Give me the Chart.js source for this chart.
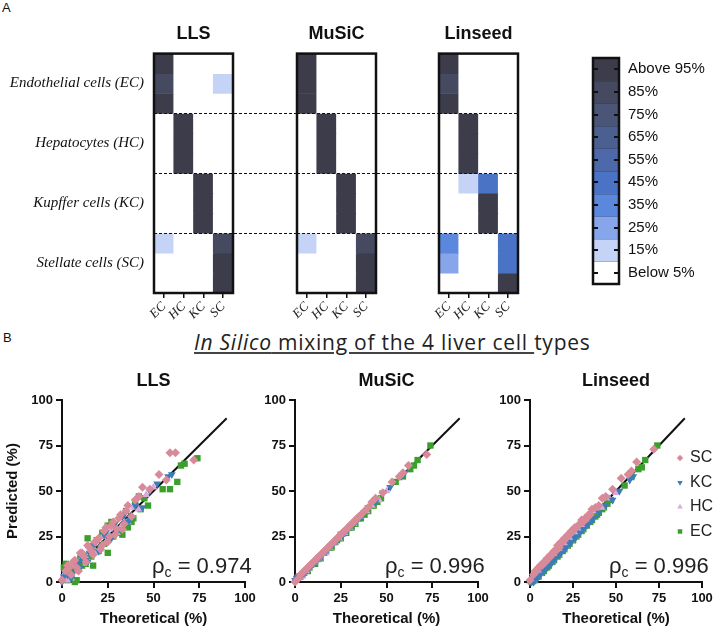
<!DOCTYPE html>
<html>
<head>
<meta charset="utf-8">
<script src="https://cdn.jsdelivr.net/npm/chart.js@4.4.0/dist/chart.umd.min.js"></script>
<style>
  body { margin: 0; background: #fff; }
  #page { position: relative; width: 727px; height: 632px; overflow: hidden; font-family: "Liberation Sans", Arial, sans-serif; color: #111; }
  canvas, .txt { position: absolute; }
  #mixTitle { left: 194px; top: 328px; font-family: "Open Sans", sans-serif; font-size: 21px; letter-spacing: 0.75px; line-height: 28px; white-space: nowrap; color: #222; }
  #mixTitle u { text-decoration-color: #444; }
</style>
</head>
<body>
<div id="page">
  <div class="txt" style="left:2px;top:0px;font-size:13px">A</div>
  <div class="txt" style="left:3px;top:330px;font-size:13px">B</div>
  <div class="txt" id="mixTitle"><u><i>In Silico</i> mixing of the 4 liver cell </u>types</div>

  <canvas id="hmLLS" width="297" height="320" style="left:0px;top:10px"></canvas>
  <canvas id="hmMuSiC" width="182" height="320" style="left:257px;top:10px"></canvas>
  <canvas id="hmLinseed" width="131" height="320" style="left:399px;top:10px"></canvas>
  <canvas id="colorBar" width="174" height="262" style="left:553px;top:40px"></canvas>

  <canvas id="scLLS" width="270" height="272" style="left:0px;top:360px"></canvas>
  <canvas id="scMuSiC" width="248" height="272" style="left:255px;top:360px"></canvas>
  <canvas id="scLinseed" width="237" height="272" style="left:490px;top:360px"></canvas>
</div>

<script>
// ---- panel A data ----
const columnLabels = ["EC", "HC", "KC", "SC"];
const rowGroups = ["Endothelial cells (EC)", "Hepatocytes (HC)", "Kupffer cells (KC)", "Stellate cells (SC)"];
const groupCenters = [1.5, 4.5, 7.5, 10.5];
const groupBreaks = [3, 6, 9];

const levelLabels = ["Above 95%", "85%", "75%", "65%", "55%", "45%", "35%", "25%", "15%", "Below 5%"];
const levelColors = ["#3c3c4a", "#464a60", "#4a5577", "#4c5f91", "#4d69aa", "#4a73c6", "#5b87dc", "#87a5ea", "#c4d3f6", "#ffffff"];

// percentage of each sample (row) assigned to each cell type (column)
const llsValues = [
  [97, 0, 0, 0], [86, 0, 0, 16], [97, 0, 0, 0],
  [0, 98, 0, 0], [0, 98, 0, 0], [0, 98, 0, 0],
  [0, 0, 98, 0], [0, 0, 98, 0], [0, 0, 98, 0],
  [15, 0, 0, 85], [0, 0, 0, 97], [0, 0, 0, 97],
];
const musicValues = [
  [97, 0, 0, 0], [97, 0, 0, 0], [97, 0, 0, 0],
  [0, 98, 0, 0], [0, 98, 0, 0], [0, 98, 0, 0],
  [0, 0, 98, 0], [0, 0, 98, 0], [0, 0, 98, 0],
  [15, 0, 0, 85], [0, 0, 0, 97], [0, 0, 0, 97],
];
const linseedValues = [
  [97, 0, 0, 0], [85, 0, 0, 0], [97, 0, 0, 0],
  [0, 97, 0, 0], [0, 97, 0, 0], [0, 97, 0, 0],
  [0, 15, 45, 0], [0, 0, 97, 0], [0, 0, 97, 0],
  [35, 0, 0, 45], [25, 0, 0, 45], [0, 0, 0, 97],
];

// ---- panel B data (theoretical vs predicted %) ----
const theoSC = [0, 2, 3, 5, 6, 8, 10, 12, 14, 16, 18, 20, 22, 24, 26, 28, 30, 32, 34, 36, 38, 42, 44, 48, 53, 57, 59, 62, 72,
  4, 7, 9, 11, 13, 15, 17, 19, 21, 23, 25, 27, 29, 31, 33, 35, 40];
const llsSC = [1, 6, 9, 4, 11, 8, 16, 14, 20, 17, 22, 24, 20, 30, 25, 33, 29, 37, 32, 42, 36, 47, 52, 51, 59, 56, 71, 71, 67,
  8, 12, 6, 16, 11, 19, 15, 23, 18, 28, 22, 31, 26, 35, 29, 39, 45];
const musicSC = [0, 2, 4, 6, 7, 9, 11, 13, 15, 17, 19, 21, 23, 25, 27, 29, 31, 33, 35, 37, 39, 44, 46, 49, 55, 58, 60, 64, 70,
  5, 8, 10, 12, 14, 16, 18, 20, 22, 24, 26, 28, 30, 32, 34, 36, 41];
const linseedSC = [1, 4, 6, 8, 9, 11, 13, 15, 17, 20, 22, 24, 26, 28, 30, 31, 34, 35, 37, 40, 41, 46, 47, 51, 57, 59, 61, 66, 73,
  6, 9, 11, 13, 15, 17, 19, 22, 24, 26, 28, 30, 32, 33, 35, 37, 42];

const theoKC = [0, 1, 3, 4, 6, 9, 11, 13, 15, 18, 21, 23, 26, 29, 31, 34, 37, 40, 44, 48, 52, 58, 60,
  2, 5, 8, 10, 12, 14, 17, 20, 24, 27, 33, 36];
const llsKC = [0, 3, 4, 7, 5, 11, 13, 12, 16, 21, 19, 26, 24, 32, 29, 37, 34, 42, 41, 50, 54, 58, 59,
  5, 2, 10, 8, 15, 11, 20, 17, 27, 24, 36, 33];
const musicKC = [1, 2, 3, 4, 6, 9, 11, 13, 15, 18, 21, 23, 26, 29, 31, 34, 37, 41, 44, 49, 52, 58, 60,
  3, 5, 8, 10, 12, 14, 17, 20, 24, 27, 33, 36];
const linseedKC = [0, 0, 1, 2, 4, 7, 9, 11, 13, 16, 19, 21, 24, 27, 29, 32, 35, 38, 42, 45, 50, 56, 58,
  0, 3, 6, 8, 10, 12, 15, 18, 22, 25, 31, 34];

const theoHC = [0, 2, 4, 5, 7, 9, 12, 14, 17, 19, 22, 24, 27, 30, 33, 36, 39, 42, 46, 50,
  1, 3, 6, 8, 11, 13, 16, 21, 26, 32];
const llsHC = [2, 3, 6, 2, 10, 7, 15, 12, 19, 16, 25, 22, 30, 27, 35, 33, 41, 40, 48, 52,
  4, 1, 9, 6, 14, 10, 20, 18, 29, 30];
const musicHC = [1, 2, 3, 5, 7, 9, 12, 14, 16, 19, 22, 24, 27, 30, 33, 36, 39, 42, 45, 50,
  2, 3, 6, 8, 11, 13, 16, 21, 26, 32];
const linseedHC = [0, 1, 3, 4, 6, 9, 11, 13, 17, 18, 22, 23, 27, 29, 33, 35, 39, 41, 46, 49,
  1, 2, 5, 7, 10, 12, 15, 20, 25, 31];

const theoEC = [1, 2, 4, 7, 8, 11, 14, 17, 20, 22, 25, 25, 28, 31, 33, 36, 38, 40, 43, 45, 47, 55, 59, 63, 65, 67, 74,
  3, 5, 10, 13, 16, 19, 23, 27, 30, 35, 39, 42];
const llsEC = [8, 10, 3, 0, 1, 9, 24, 9, 17, 27, 31, 16, 25, 29, 26, 30, 33, 44, 40, 46, 42, 51, 51, 55, 64, 65, 68,
  1, 7, 13, 10, 14, 23, 21, 33, 27, 39, 35, 47];
const musicEC = [2, 3, 4, 6, 8, 10, 13, 17, 19, 22, 24, 26, 27, 30, 32, 35, 37, 39, 42, 44, 46, 55, 58, 62, 64, 67, 75,
  3, 5, 10, 13, 16, 19, 23, 27, 30, 35, 39, 42];
const linseedEC = [0, 1, 3, 5, 6, 9, 12, 15, 18, 20, 23, 23, 26, 29, 31, 34, 36, 38, 41, 43, 45, 53, 58, 62, 63, 67, 75,
  1, 3, 8, 11, 14, 17, 21, 25, 28, 33, 37, 40];

const identityLine = [0, 90];
const rhoValues = ["0.974", "0.996", "0.996"];

Chart.defaults.font.family = '"Liberation Sans", Arial, sans-serif';
Chart.defaults.color = "#111";
Chart.defaults.animation = false;
Chart.defaults.plugins.legend.display = false;
Chart.defaults.plugins.tooltip.enabled = false;

// which colour bin a percentage falls in
function levelIndex(v) {
  if (v >= 95) return 0;
  if (v < 5) return 9;
  return Math.min(8, Math.max(1, Math.round((95 - v) / 10)));
}

// box round the heatmap + dashed separators between cell-type groups
const heatFrame = {
  id: "heatFrame",
  afterDatasetsDraw(chart, args, opts) {
    const { ctx, chartArea: a, scales: { y } } = chart;
    ctx.save();
    ctx.strokeStyle = "#111";
    ctx.lineWidth = 1;
    ctx.setLineDash([3, 2]);
    groupBreaks.forEach((v) => {
      const py = Math.round(y.getPixelForValue(v)) + 0.5;
      ctx.beginPath();
      ctx.moveTo(a.left, py);
      ctx.lineTo(opts.toEdge ? chart.width : a.right, py);
      ctx.stroke();
    });
    ctx.setLineDash([]);
    ctx.lineWidth = 2.5;
    ctx.strokeRect(a.left, a.top, a.right - a.left, a.bottom - a.top);
    ctx.restore();
  },
};

function heatmapChart(id, title, values, showRows, padding, toEdge) {
  const datasets = values.map((row, r) => ({
    label: "row " + r,
    data: columnLabels.map(() => 1),
    backgroundColor: row.map((v) => levelColors[levelIndex(v)]),
    borderWidth: 0,
  }));

  return new Chart(document.getElementById(id), {
    type: "bar",
    data: { labels: columnLabels, datasets },
    options: {
      responsive: false,
      layout: { padding },
      datasets: { bar: { barPercentage: 1, categoryPercentage: 1 } },
      plugins: {
        title: {
          display: true, text: title, fullSize: false,
          font: { size: 18, weight: "bold" }, color: "#111",
          padding: { top: 13, bottom: 9 },
        },
        heatFrame: { toEdge },
      },
      scales: {
        x: {
          stacked: true,
          afterFit: (s) => { s.height = 37; },
          grid: { display: true, drawOnChartArea: false, offset: false, tickLength: 5, color: "#111", lineWidth: 1.5 },
          border: { display: false },
          ticks: {
            autoSkip: false, minRotation: 45, maxRotation: 45, padding: 1, color: "#222",
            font: { family: '"Liberation Serif", serif', style: "italic", size: 13 },
          },
        },
        y: {
          stacked: true, min: 0, max: 12, reverse: true,
          display: showRows,
          afterFit: (s) => { s.width = showRows ? 154 : 0; },
          afterBuildTicks: (s) => { s.ticks = groupCenters.map((v) => ({ value: v })); },
          grid: { display: false, drawTicks: false },
          border: { display: false },
          ticks: {
            autoSkip: false, padding: 10, color: "#111",
            font: { family: '"Liberation Serif", serif', style: "italic", size: 15 },
            callback: (v, i) => rowGroups[i],
          },
        },
      },
    },
    plugins: [heatFrame],
  });
}

heatmapChart("hmLLS", "LLS", llsValues, true, { left: 0, right: 64, top: 0, bottom: 0 }, true);
heatmapChart("hmMuSiC", "MuSiC", musicValues, false, { left: 40, right: 63, top: 0, bottom: 0 }, true);
heatmapChart("hmLinseed", "Linseed", linseedValues, false, { left: 40, right: 12, top: 0, bottom: 0 }, false);

// colour scale
const barFrame = {
  id: "barFrame",
  afterDatasetsDraw(chart) {
    const { ctx, chartArea: a, scales: { y } } = chart;
    ctx.save();
    ctx.strokeStyle = "rgba(30,30,50,0.25)";
    ctx.lineWidth = 1;
    for (let i = 1; i < levelLabels.length; i++) {
      const py = Math.round(y.getPixelForValue(i)) + 0.5;
      ctx.beginPath(); ctx.moveTo(a.left, py); ctx.lineTo(a.right, py); ctx.stroke();
    }
    ctx.strokeStyle = "#111";
    ctx.lineWidth = 2;
    y.ticks.forEach((t, i) => {
      const py = Math.round(y.getPixelForTick(i));
      ctx.beginPath(); ctx.moveTo(a.left, py); ctx.lineTo(a.left + 5, py); ctx.stroke();
      ctx.beginPath(); ctx.moveTo(a.right - 5, py); ctx.lineTo(a.right, py); ctx.stroke();
    });
    ctx.lineWidth = 2.5;
    ctx.strokeRect(a.left, a.top, a.right - a.left, a.bottom - a.top);
    ctx.restore();
  },
};

new Chart(document.getElementById("colorBar"), {
  type: "bar",
  data: {
    labels: [""],
    datasets: levelLabels.map((l, i) => ({ label: l, data: [1], backgroundColor: levelColors[i], borderWidth: 0 })),
  },
  options: {
    responsive: false,
    layout: { padding: { left: 40, right: 0, top: 12, bottom: 11 } },
    datasets: { bar: { barPercentage: 1, categoryPercentage: 1 } },
    scales: {
      x: { stacked: true, display: false },
      y: {
        stacked: true, min: 0, max: 10, reverse: true, position: "right",
        afterFit: (s) => { s.width = 108; },
        afterBuildTicks: (s) => { s.ticks = levelLabels.map((l, i) => ({ value: i + 0.5 })); },
        grid: { display: false, drawTicks: false },
        border: { display: false },
        ticks: { autoSkip: false, padding: 9, color: "#111", font: { size: 15 }, callback: (v, i) => levelLabels[i] },
      },
    },
  },
  plugins: [barFrame],
});

// ---- scatter panels ----
const cellTypes = [
  { label: "SC", theo: theoSC, color: "#d98a98", style: "rectRot", rotation: 0 },
  { label: "KC", theo: theoKC, color: "#3b7db8", style: "triangle", rotation: 180 },
  { label: "HC", theo: theoHC, color: "#dba8e0", style: "triangle", rotation: 0 },
  { label: "EC", theo: theoEC, color: "#3c9f2d", style: "rect", rotation: 0 },
];

const rhoLabel = {
  id: "rhoLabel",
  afterDraw(chart, args, opts) {
    const { ctx, chartArea: a } = chart;
    let x = a.right - 93;
    const base = a.bottom - 9;
    ctx.save();
    ctx.fillStyle = "#222";
    ctx.textAlign = "left";
    ctx.textBaseline = "alphabetic";
    ctx.font = '22px "Liberation Sans"';
    ctx.fillText("ρ", x, base);
    x += ctx.measureText("ρ").width;
    ctx.font = '14px "Liberation Sans"';
    ctx.fillText("c", x, base + 4);
    x += ctx.measureText("c").width;
    ctx.font = '22px "Liberation Sans"';
    ctx.fillText(" = " + opts.value, x, base);
    ctx.restore();
  },
};

const cellLegend = {
  id: "cellLegend",
  afterDraw(chart, args, opts) {
    if (!opts.show) return;
    const { ctx, chartArea: a } = chart;
    ctx.save();
    chart.data.datasets.forEach((ds, i) => {
      if (ds.showLine) return;
      const y = a.top + 58 + i * 24.5;
      ctx.fillStyle = ds.backgroundColor;
      Chart.helpers.drawPoint(ctx, { pointStyle: ds.pointStyle, rotation: ds.pointRotation, radius: 3.2, borderWidth: 0 }, a.right - 22, y);
      ctx.fillStyle = "#222";
      ctx.font = '16px "Liberation Sans"';
      ctx.textBaseline = "middle";
      ctx.textAlign = "left";
      ctx.fillText(ds.label, a.right - 12, y);
    });
    ctx.restore();
  },
};

function scatterChart(id, title, predicted, rho, yWidth, showYTitle, showLegend) {
  const datasets = cellTypes.map((c, k) => ({
    label: c.label,
    data: c.theo.map((x, i) => ({ x, y: predicted[k][i] })),
    backgroundColor: c.color,
    borderColor: c.color,
    pointStyle: c.style,
    pointRotation: c.rotation,
    pointRadius: 4.5,
    pointBorderWidth: 0,
    clip: 6,
  }));
  datasets.push({
    label: "identity",
    data: identityLine.map((v) => ({ x: v, y: v })),
    showLine: true,
    borderColor: "#111",
    borderWidth: 2,
    pointRadius: 0,
  });

  return new Chart(document.getElementById(id), {
    type: "scatter",
    data: { datasets },
    options: {
      responsive: false,
      layout: { padding: { left: 0, right: 25, top: 0, bottom: 0 } },
      plugins: {
        title: {
          display: true, text: title, fullSize: false,
          font: { size: 18, weight: "bold" }, color: "#111",
          padding: { top: 10, bottom: 8.4 },
        },
        rhoLabel: { value: rho },
        cellLegend: { show: showLegend },
      },
      scales: {
        x: {
          type: "linear", min: 0, max: 100,
          afterFit: (s) => { s.height = 50; },
          grid: { drawOnChartArea: false, tickLength: 6, color: "#111", lineWidth: 2 },
          border: { color: "#111", width: 2 },
          ticks: { stepSize: 25, padding: 3, color: "#111", font: { size: 13, weight: "bold" } },
          title: { display: true, text: "Theoretical (%)", color: "#111", font: { size: 15, weight: "bold" }, padding: { top: 4, bottom: 4 } },
        },
        y: {
          type: "linear", min: 0, max: 100,
          afterFit: (s) => { s.width = yWidth; },
          grid: { drawOnChartArea: false, tickLength: 6, color: "#111", lineWidth: 2 },
          border: { color: "#111", width: 2 },
          ticks: { stepSize: 25, padding: 3, color: "#111", font: { size: 13, weight: "bold" } },
          title: { display: showYTitle, text: "Predicted (%)", color: "#111", font: { size: 15, weight: "bold" }, padding: { top: 4, bottom: 4 } },
        },
      },
    },
    plugins: [rhoLabel, cellLegend],
  });
}

scatterChart("scLLS", "LLS", [llsSC, llsKC, llsHC, llsEC], rhoValues[0], 62, true, false);
scatterChart("scMuSiC", "MuSiC", [musicSC, musicKC, musicHC, musicEC], rhoValues[1], 40, false, false);
scatterChart("scLinseed", "Linseed", [linseedSC, linseedKC, linseedHC, linseedEC], rhoValues[2], 40, false, true);
</script>
</body>
</html>
